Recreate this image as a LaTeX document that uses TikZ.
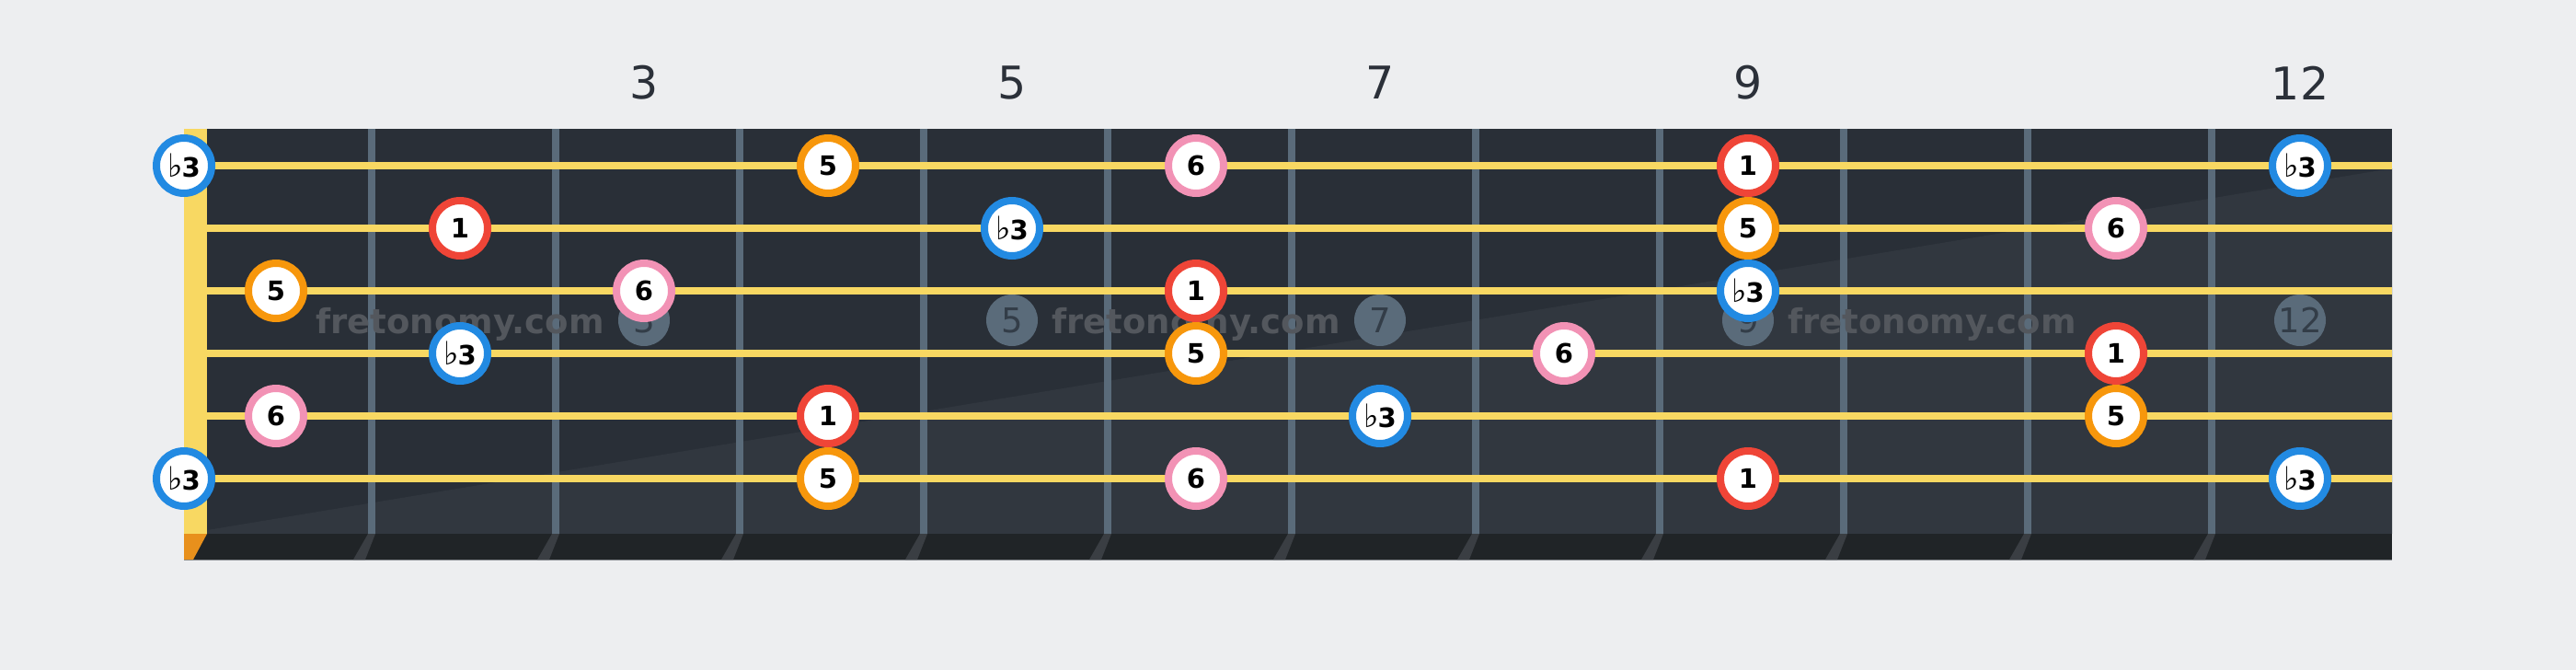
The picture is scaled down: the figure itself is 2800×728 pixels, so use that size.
\documentclass[tikz,border=0pt]{standalone}
\usepackage{fontspec}
\setmainfont{DejaVu Sans}
\definecolor{bgc}{HTML}{EDEEF0}
\definecolor{boardc}{HTML}{292F37}
\definecolor{boardlc}{HTML}{31373F}
\definecolor{stripc}{HTML}{202427}
\definecolor{striplinec}{HTML}{83878C}
\definecolor{fretc}{HTML}{5A6B7A}
\definecolor{fretmarkc}{HTML}{3A3E43}
\definecolor{yelc}{HTML}{F8D862}
\definecolor{nutorc}{HTML}{E8901C}
\definecolor{markerc}{HTML}{5A6B7A}
\definecolor{markertxt}{HTML}{333D48}
\definecolor{wmc}{HTML}{53575D}
\definecolor{labelc}{HTML}{2B3039}
\definecolor{bluec}{HTML}{228AE2}
\definecolor{redc}{HTML}{EF4537}
\definecolor{orangec}{HTML}{F7970C}
\definecolor{pinkc}{HTML}{F292B5}
\tikzset{
  note/.style={circle, draw, line width=8pt, fill=white, minimum size=60pt, inner sep=0pt,
    font=\fontsize{29}{29}\selectfont\bfseries, text=black},
  nb/.style={note, draw=bluec},
  nr/.style={note, draw=redc},
  no/.style={note, draw=orangec},
  np/.style={note, draw=pinkc},
  inlay/.style={circle, fill=markerc, minimum size=56pt, inner sep=0pt,
    font=\fontsize{37}{37}\selectfont, text=markertxt},
  fretlabel/.style={font=\fontsize{49}{49}\selectfont, text=labelc, inner sep=0pt},
  watermark/.style={font=\fontsize{37}{37}\selectfont\bfseries, text=wmc, anchor=base, inner sep=0pt},
  stringline/.style={draw=yelc, line width=8pt},
}
\newcommand{\fl}{{\mdseries\fontsize{35}{35}\selectfont ♭}\kern-1pt 3}
\begin{document}
\begin{tikzpicture}[x=1pt,y=-1pt]
\useasboundingbox (0,0) rectangle (2800,728);
\fill[bgc] (0,0) rectangle (2800,728);
% fretboard
\fill[boardc] (200,140) rectangle (2600,580);
\fill[boardlc] (225,576) -- (2600,183) -- (2600,580) -- (225,580) -- cycle;
\fill[stripc] (200,580) rectangle (2600,608);
\draw[striplinec, line width=1.5pt] (200,608.5) -- (2600,608.5);
\foreach \k in {1,...,11} {
  \fill[fretc] ({200+200*\k},140) rectangle ({208+200*\k},580);
  \fill[fretmarkc] ({200+200*\k},580) -- ({208+200*\k},580) -- ({197+200*\k},608) -- ({184+200*\k},608) -- cycle;
}
% nut
\fill[yelc] (200,140) rectangle (225,580);
\fill[nutorc] (200,580) -- (225,580) -- (210,608) -- (200,608) -- cycle;
% inlays
\node[inlay] (m3) at (700,348) {3};
\node[inlay] (m5) at (1100,348) {5};
\node[inlay] (m7) at (1500,348) {7};
\node[inlay] (m9) at (1900,348) {9};
\node[inlay] (m12) at (2500,348) {12};
% watermark
\node[watermark] (w1) at (500,362) {fretonomy.com};
\node[watermark] (w2) at (1300,362) {fretonomy.com};
\node[watermark] (w3) at (2100,362) {fretonomy.com};
% strings
\foreach \s in {1,...,6} {
  \draw[stringline] (225,{112+68*\s}) -- (2600,{112+68*\s});
}
% fret numbers
\node[fretlabel] (l3) at (700,90) {3};
\node[fretlabel] (l5) at (1100,90) {5};
\node[fretlabel] (l7) at (1500,90) {7};
\node[fretlabel] (l9) at (1900,90) {9};
\node[fretlabel] (l12) at (2500,90) {12};
% string 1
\node[nb] (a0) at (200,180) {\fl};
\node[no] (a4) at (900,180) {5};
\node[np] (a6) at (1300,180) {6};
\node[nr] (a9) at (1900,180) {1};
\node[nb] (a12) at (2500,180) {\fl};
% string 2
\node[nr] (b2) at (500,248) {1};
\node[nb] (b5) at (1100,248) {\fl};
\node[no] (b9) at (1900,248) {5};
\node[np] (b11) at (2300,248) {6};
% string 3
\node[no] (c1) at (300,316) {5};
\node[np] (c3) at (700,316) {6};
\node[nr] (c6) at (1300,316) {1};
\node[nb] (c9) at (1900,316) {\fl};
% string 4
\node[nb] (d2) at (500,384) {\fl};
\node[no] (d6) at (1300,384) {5};
\node[np] (d8) at (1700,384) {6};
\node[nr] (d11) at (2300,384) {1};
% string 5
\node[np] (e1) at (300,452) {6};
\node[nr] (e4) at (900,452) {1};
\node[nb] (e7) at (1500,452) {\fl};
\node[no] (e11) at (2300,452) {5};
% string 6
\node[nb] (f0) at (200,520) {\fl};
\node[no] (f4) at (900,520) {5};
\node[np] (f6) at (1300,520) {6};
\node[nr] (f9) at (1900,520) {1};
\node[nb] (f12) at (2500,520) {\fl};
\end{tikzpicture}
\end{document}
